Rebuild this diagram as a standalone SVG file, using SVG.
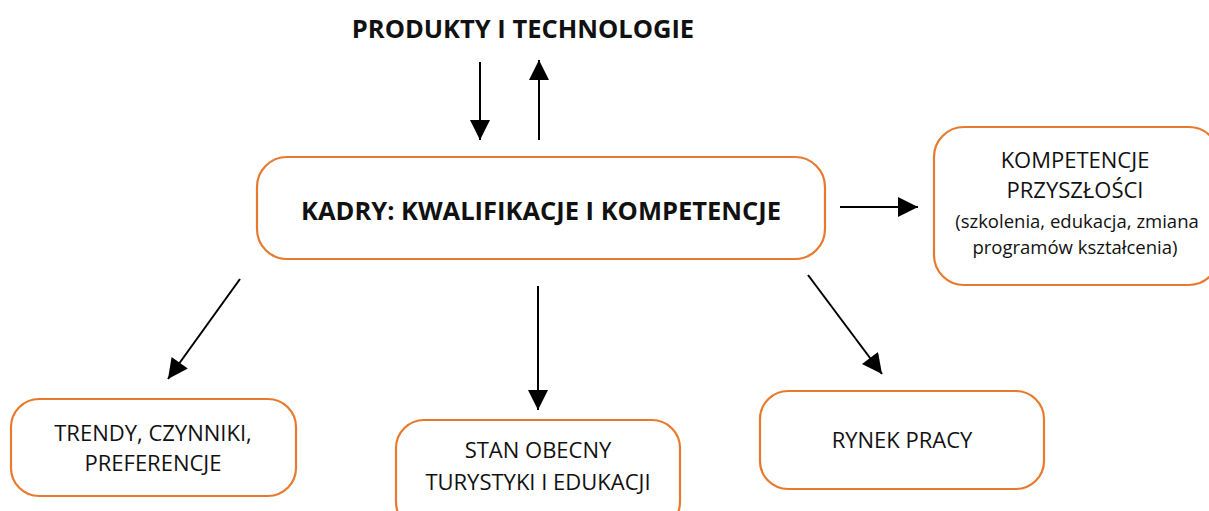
<svg xmlns="http://www.w3.org/2000/svg" width="1209" height="511" viewBox="0 0 1209 511">
<defs>
<marker id="ah" viewBox="0 0 10 10" refX="10" refY="5" markerWidth="22" markerHeight="20" markerUnits="userSpaceOnUse" orient="auto">
<path d="M0,0 L10,5 L0,10 z" fill="#000"/>
</marker>
<style>
.box{fill:#fff;stroke:#E87A2E;stroke-width:2.2}
.t{font-family:"Open Sans","Liberation Sans",sans-serif;font-size:22px;fill:#111;text-anchor:middle}
.b{font-weight:bold;font-size:25.5px}
.s{font-size:18.5px}
.c{stroke:#000;stroke-width:2;fill:none}
</style>
</defs>
<rect width="1209" height="511" fill="#fff"/>
<g id="title"><text class="t b" x="523" y="38">PRODUKTY I TECHNOLOGIE</text></g>
<g id="kadry"><rect class="box" x="257" y="157" width="568" height="102" rx="30"/><text class="t b" x="541" y="220">KADRY: KWALIFIKACJE I KOMPETENCJE</text></g>
<g id="kompetencje"><rect class="box" x="934" y="127" width="285" height="158" rx="30"/>
<text class="t" x="1075" y="168">KOMPETENCJE</text>
<text class="t" x="1075" y="198">PRZYSZŁOŚCI</text>
<text class="t s" x="1077" y="228">(szkolenia, edukacja, zmiana</text>
<text class="t s" x="1075" y="254">programów kształcenia)</text></g>
<g id="trendy"><rect class="box" x="11" y="399" width="285" height="97" rx="28"/>
<text class="t" x="153" y="441">TRENDY, CZYNNIKI,</text>
<text class="t" x="153" y="471">PREFERENCJE</text></g>
<g id="stan"><rect class="box" x="396" y="420" width="284" height="110" rx="28"/>
<text class="t" x="538" y="458">STAN OBECNY</text>
<text class="t" x="538" y="490">TURYSTYKI I EDUKACJI</text></g>
<g id="rynek"><rect class="box" x="760" y="391" width="284" height="98" rx="28"/>
<text class="t" x="902" y="448">RYNEK PRACY</text></g>
<g id="connectors" class="c">
<line class="c" x1="480" y1="62" x2="480" y2="140" marker-end="url(#ah)"/>
<line class="c" x1="539" y1="140" x2="539" y2="60" marker-end="url(#ah)"/>
<line class="c" x1="840" y1="207" x2="918" y2="207" marker-end="url(#ah)"/>
<line class="c" x1="240" y1="279" x2="168" y2="379" marker-end="url(#ah)"/>
<line class="c" x1="538" y1="286" x2="538" y2="410" marker-end="url(#ah)"/>
<line class="c" x1="808" y1="275" x2="882" y2="374" marker-end="url(#ah)"/>
</g>
</svg>
